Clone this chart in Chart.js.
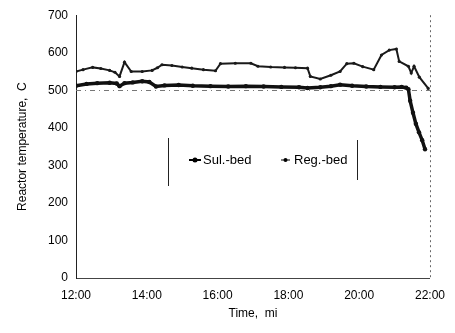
<!DOCTYPE html>
<html>
<head>
<meta charset="utf-8">
<script src="https://cdn.jsdelivr.net/npm/chart.js@4/dist/chart.umd.min.js"></script>
<style>
  html, body { margin: 0; padding: 0; background: #fff; }
  #wrap { width: 455px; height: 333px; }
</style>
</head>
<body>
<div id="wrap"><canvas id="grafica"></canvas></div>
<script>
// hours of the day (12 = 12:00)
var sulHours = [12.0, 12.3, 12.6, 12.95, 13.15, 13.23, 13.37, 13.6, 13.87, 14.07, 14.26, 14.5, 14.9, 15.3, 15.8, 16.3, 16.8, 17.3, 17.8, 18.3, 18.54, 18.9, 19.2, 19.46, 19.8, 20.2, 20.6, 21.0, 21.2, 21.33, 21.39, 21.44, 21.52, 21.6, 21.69, 21.78, 21.86];
var sulTemps = [512, 517, 519, 520, 518, 511, 519, 521, 524, 522, 510, 513, 514, 512, 511, 510, 511, 510, 509, 508, 506, 508, 511, 515, 512, 510, 509, 508, 509, 507, 503, 472, 440, 411, 388, 367, 343];

var regHours = [12.0, 12.2, 12.47, 12.7, 12.95, 13.1, 13.23, 13.37, 13.56, 13.87, 14.15, 14.3, 14.43, 14.71, 15.0, 15.27, 15.6, 15.94, 16.08, 16.5, 16.94, 17.14, 17.5, 17.89, 18.2, 18.54, 18.62, 18.9, 19.2, 19.46, 19.65, 19.85, 20.1, 20.41, 20.63, 20.85, 21.05, 21.13, 21.39, 21.47, 21.55, 21.7, 21.95];
var regTemps = [550, 555, 561, 558, 553, 548, 537, 575, 550, 550, 553, 560, 568, 566, 562, 559, 555, 552, 571, 572, 572, 564, 562, 561, 560, 559, 537, 530, 540, 550, 571, 572, 563, 555, 594, 607, 610, 577, 564, 546, 564, 535, 505];

var seriesNames = ['Sul.-bed', 'Reg.-bed'];
var xTicks = [12, 14, 16, 18, 20, 22];
var yTicks = [0, 100, 200, 300, 400, 500, 600, 700];
var refLine = 500;

function pts(xs, ys) {
    return xs.map(function (x, i) { return { x: x, y: ys[i] }; });
}

var fuente = "'Liberation Sans', Arial, sans-serif";

// legend drawn inside the plot + frame details
var extras = {
    id: 'extras',
    beforeDatasetsDraw: function (chart) {
        var c = chart.ctx, a = chart.chartArea;
        var ys = chart.scales.y;
        c.save();
        // dashed reference line at 500
        c.strokeStyle = '#777';
        c.lineWidth = 1;
        c.setLineDash([5, 4, 1, 4]);
        var py = Math.round(ys.getPixelForValue(refLine)) + 0.5;
        c.beginPath(); c.moveTo(a.left, py); c.lineTo(a.right, py); c.stroke();
        // dotted right border
        c.setLineDash([2, 3]);
        c.strokeStyle = '#666';
        c.beginPath(); c.moveTo(a.right + 0.5, a.top); c.lineTo(a.right + 0.5, a.bottom); c.stroke();
        c.restore();
    },
    afterDraw: function (chart) {
        var c = chart.ctx;
        c.save();
        c.strokeStyle = '#222';
        c.lineWidth = 1;
        // brackets
        c.beginPath();
        c.moveTo(168.5, 138); c.lineTo(168.5, 186);
        c.moveTo(357.5, 140); c.lineTo(357.5, 180);
        c.stroke();
        c.font = '13px ' + fuente;
        c.fillStyle = '#000';
        c.strokeStyle = '#000';
        c.textBaseline = 'middle';
        // Sul.-bed
        c.lineWidth = 2;
        c.beginPath(); c.moveTo(189, 160); c.lineTo(201, 160); c.stroke();
        c.beginPath(); c.arc(195, 160, 2.5, 0, Math.PI * 2); c.fill();
        c.fillText(chart.data.datasets[0].label, 203, 160);
        // Reg.-bed
        c.lineWidth = 1;
        c.beginPath(); c.moveTo(281, 160); c.lineTo(290, 160); c.stroke();
        c.beginPath(); c.arc(285.5, 160, 2, 0, Math.PI * 2); c.fill();
        c.fillText(chart.data.datasets[1].label, 294, 160);
        c.restore();
    }
};

var ctx = document.getElementById('grafica').getContext('2d');
var chart = new Chart(ctx, {
    type: 'line',
    data: {
        datasets: [
            {
                label: seriesNames[0],
                data: pts(sulHours, sulTemps),
                borderColor: '#111',
                backgroundColor: '#111',
                borderWidth: 3.5,
                pointRadius: 2.2,
                pointBorderWidth: 0,
                tension: 0
            },
            {
                label: seriesNames[1],
                data: pts(regHours, regTemps),
                borderColor: '#1a1a1a',
                backgroundColor: '#1a1a1a',
                borderWidth: 2,
                pointRadius: 1.6,
                pointBorderWidth: 0,
                tension: 0
            }
        ]
    },
    plugins: [extras],
    options: {
        responsive: true,
        maintainAspectRatio: false,
        animation: false,
        layout: { padding: { top: 7, right: 23, bottom: 8, left: 11 } },
        plugins: {
            legend: { display: false },
            tooltip: { enabled: false }
        },
        scales: {
            x: {
                type: 'linear',
                min: 12,
                max: 22,
                afterBuildTicks: function (s) { s.ticks = xTicks.map(function (v) { return { value: v }; }); },
                afterFit: function (s) { s.height = 47; },
                grid: { display: false, drawTicks: false },
                border: { color: '#444', width: 1, dash: [8, 5] },
                ticks: {
                    padding: 10,
                    color: '#000',
                    font: { family: fuente, size: 12 },
                    maxRotation: 0,
                    callback: function (v) { return v + ':00'; }
                },
                title: {
                    display: true,
                    text: 'Time,  mi',
                    color: '#000',
                    padding: { top: 0 },
                    font: { family: fuente, size: 12 }
                }
            },
            y: {
                min: 0,
                max: 700,
                afterBuildTicks: function (s) { s.ticks = yTicks.map(function (v) { return { value: v }; }); },
                afterFit: function (s) { s.width = 65; },
                grid: { display: false, drawTicks: false },
                border: { color: '#222', width: 1 },
                ticks: {
                    padding: 8,
                    color: '#000',
                    font: { family: fuente, size: 12 }
                },
                title: {
                    display: true,
                    text: 'Reactor temperature,  C',
                    color: '#000',
                    padding: { bottom: 8 },
                    font: { family: fuente, size: 12 }
                }
            }
        }
    }
});
</script>
</body>
</html>
